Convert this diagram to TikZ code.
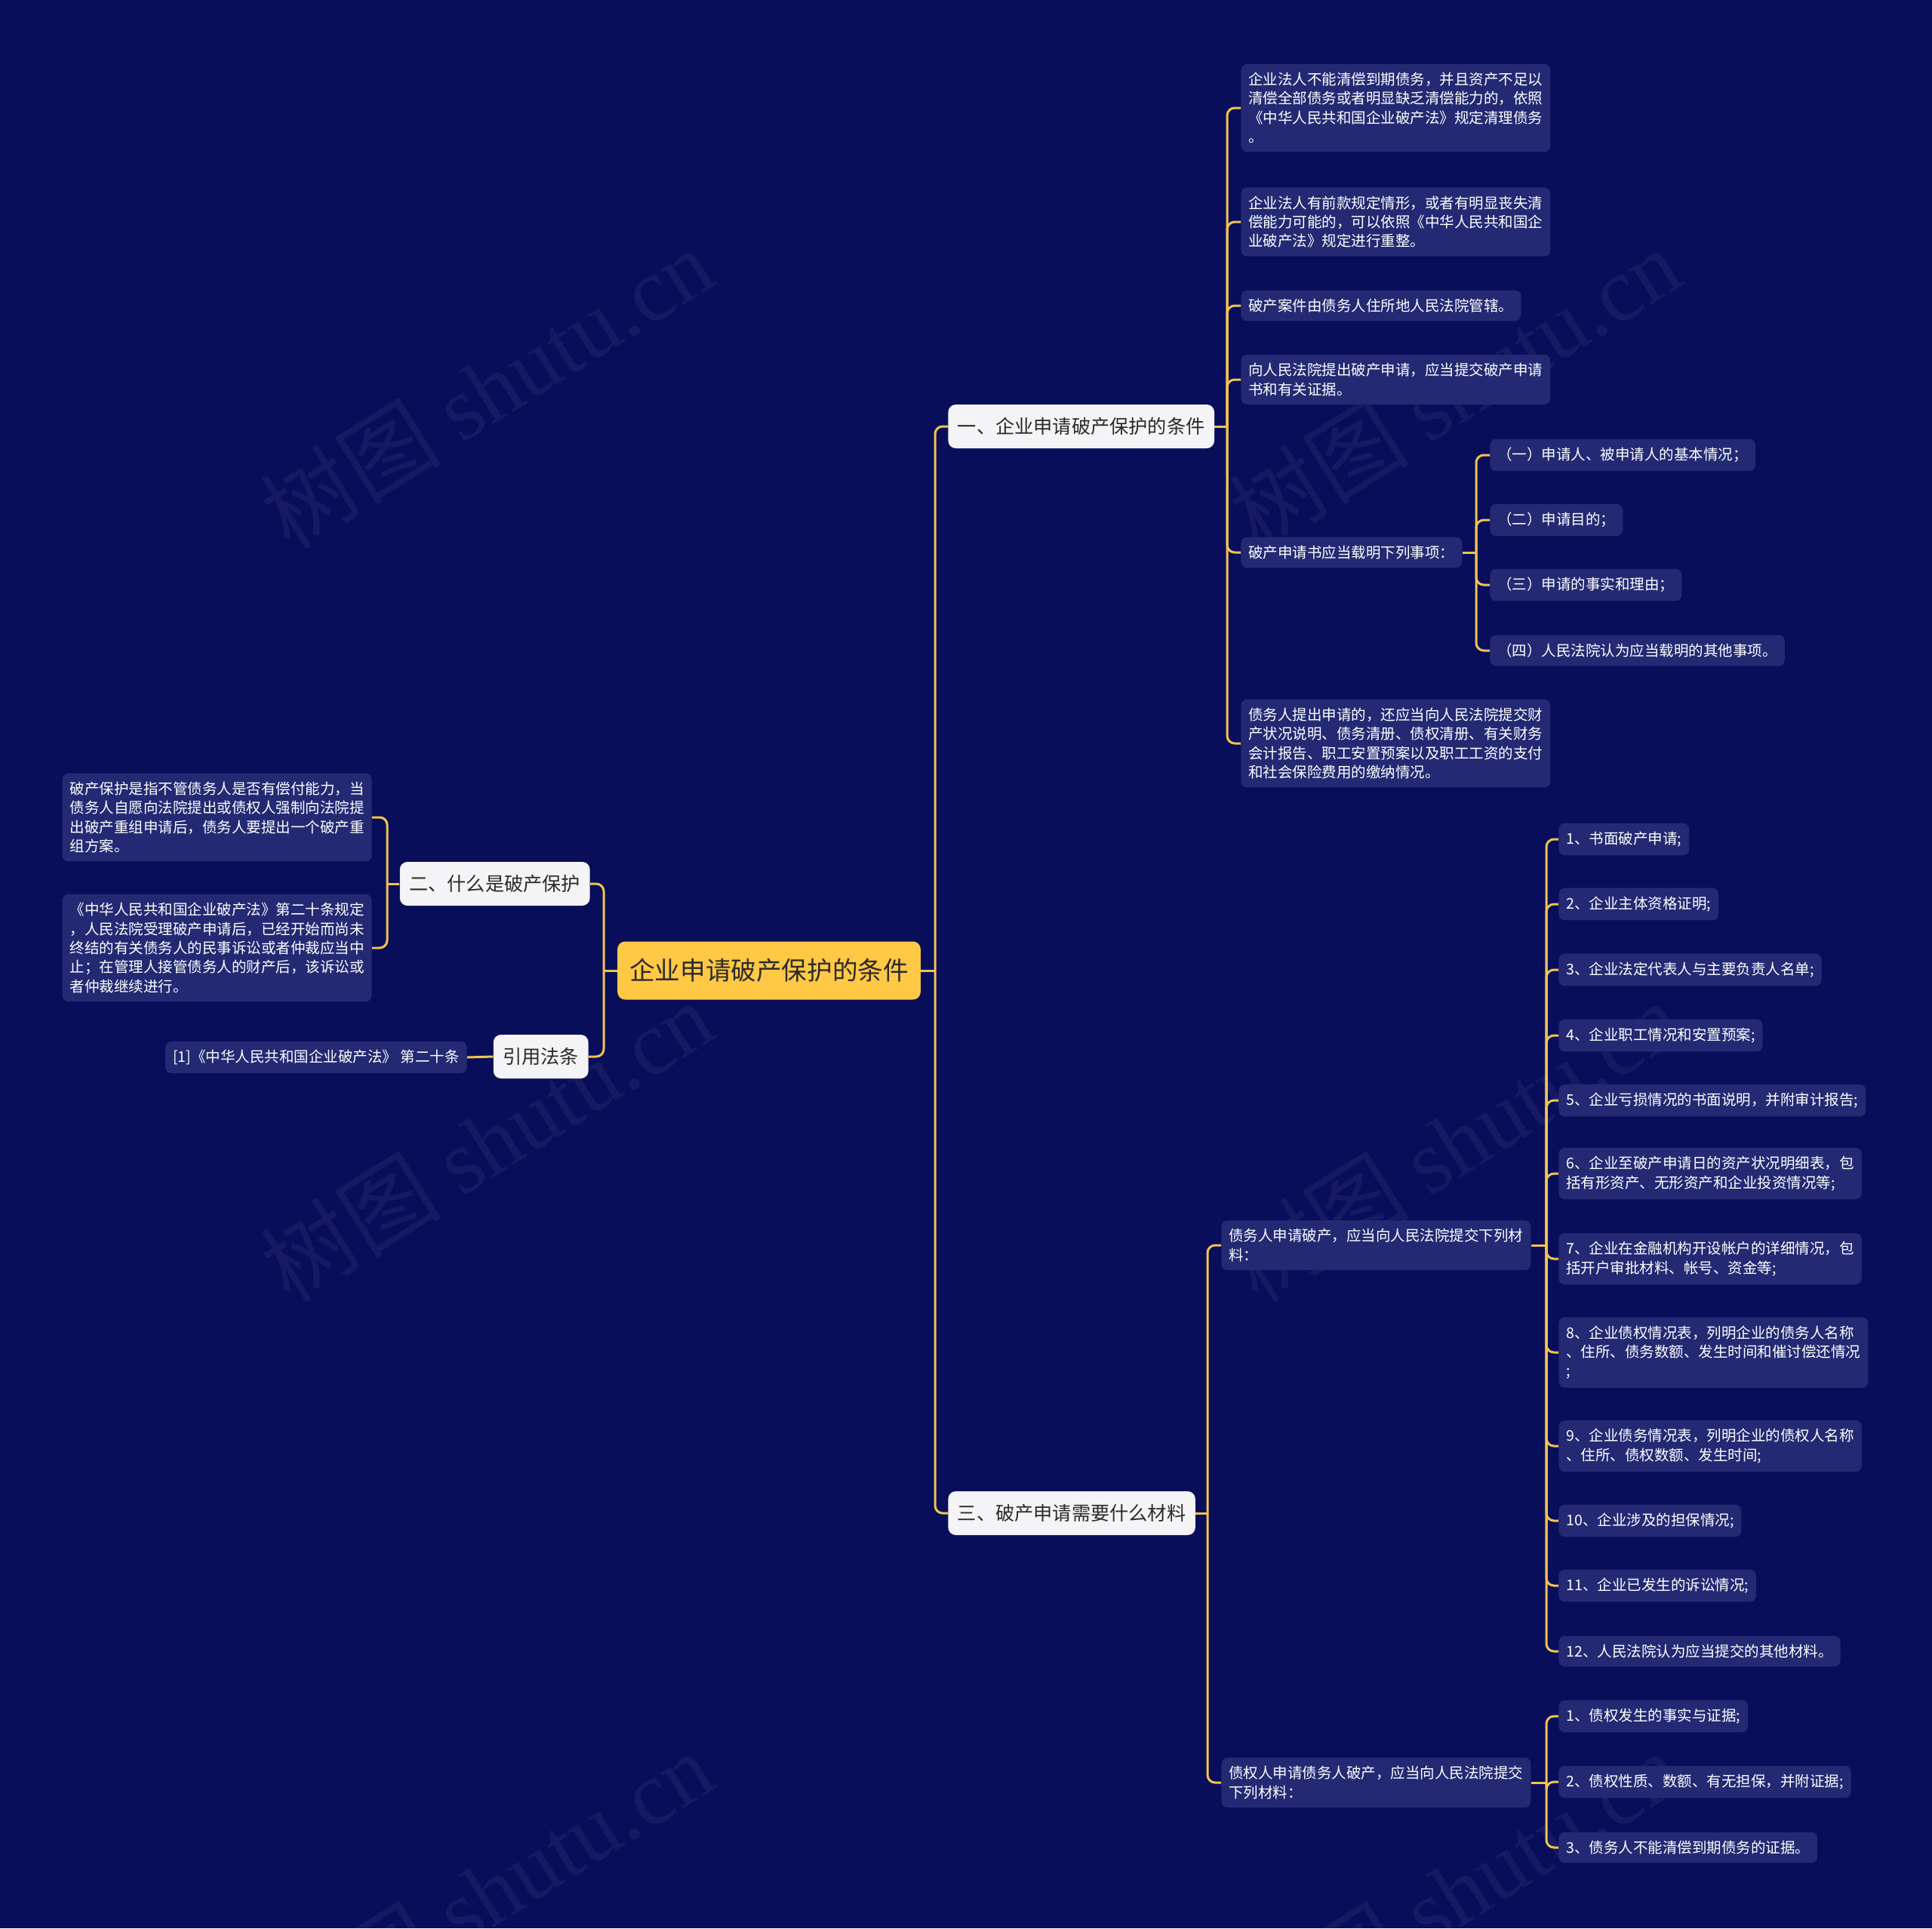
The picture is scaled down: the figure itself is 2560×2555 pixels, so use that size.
\documentclass[tikz,border=0pt]{standalone}
\usepackage{fontspec}
\setmainfont{Noto Sans CJK SC}
\newfontfamily\wmfont{Liberation Serif}
\definecolor{bgc}{HTML}{090E5B}
\definecolor{leaffill}{HTML}{232A73}
\definecolor{linec}{HTML}{F2C350}
\definecolor{rootc}{HTML}{FFC845}
\definecolor{lonefill}{HTML}{F4F4F6}
\definecolor{darktext}{HTML}{2A2A2A}
\tikzset{
  conn/.style={draw=linec, line width=1.5pt, rounded corners=5pt},
  leaf/.style={fill=leaffill, text=white, rounded corners=4pt, inner xsep=5pt, inner ysep=5.6pt,
    align=left, font=\fontsize{9.75pt}{12.7pt}\selectfont},
  lone/.style={fill=lonefill, text=darktext, rounded corners=5pt, inner xsep=6.25pt, inner ysep=0pt,
    minimum height=29pt, font=\fontsize{12.6pt}{15pt}\selectfont},
  rootn/.style={fill=rootc, text=darktext, rounded corners=5pt, inner xsep=8pt, inner ysep=0pt,
    minimum height=38.5pt, font=\fontsize{16.8pt}{20pt}\selectfont},
  wm/.style={text=white, opacity=0.05, font=\fontsize{60pt}{66pt}\selectfont}
}
\begin{document}
\begin{tikzpicture}[x=0.5pt, y=-0.5pt]
\useasboundingbox (0,0) rectangle (2560,2555);
\fill[bgc] (0,0) rectangle (2560,2555);

% watermarks
\foreach \wx/\wy in {645/514, 1927/514, 645/1512, 1927/1512, 645/2506, 1927/2506}
  \node[wm, rotate=32] at (\wx,\wy) {树图 {\wmfont shutu.cn}};

% root and level 1
\node[rootn] (root) at (1019,1286) {企业申请破产保护的条件};
\node[lone, anchor=west] (L1) at (1256,565) {一、企业申请破产保护的条件};
\node[lone, anchor=east] (L2) at (782,1171) {二、什么是破产保护};
\node[lone, anchor=east] (L3) at (780,1400) {引用法条};
\node[lone, anchor=west] (L4) at (1256,2005) {三、破产申请需要什么材料};

% branch 1 leaves
\node[leaf, anchor=west] (A1) at (1644,143) {企业法人不能清偿到期债务，并且资产不足以\\清偿全部债务或者明显缺乏清偿能力的，依照\\《中华人民共和国企业破产法》规定清理债务\\。};
\node[leaf, anchor=west] (A2) at (1644,294) {企业法人有前款规定情形，或者有明显丧失清\\偿能力可能的，可以依照《中华人民共和国企\\业破产法》规定进行重整。};
\node[leaf, anchor=west] (A3) at (1644,405) {破产案件由债务人住所地人民法院管辖。};
\node[leaf, anchor=west] (A4) at (1644,503) {向人民法院提出破产申请，应当提交破产申请\\书和有关证据。};
\node[leaf, anchor=west] (A5) at (1644,732) {破产申请书应当载明下列事项：};
\node[leaf, anchor=west] (A6) at (1644,985) {债务人提出申请的，还应当向人民法院提交财\\产状况说明、债务清册、债权清册、有关财务\\会计报告、职工安置预案以及职工工资的支付\\和社会保险费用的缴纳情况。};
\node[leaf, anchor=west] (B1) at (1974,603) {（一）申请人、被申请人的基本情况；};
\node[leaf, anchor=west] (B2) at (1974,689) {（二）申请目的；};
\node[leaf, anchor=west] (B3) at (1974,775) {（三）申请的事实和理由；};
\node[leaf, anchor=west] (B4) at (1974,862) {（四）人民法院认为应当载明的其他事项。};

% branch 2 leaves
\node[leaf, anchor=east] (C1) at (493,1083) {破产保护是指不管债务人是否有偿付能力，当\\债务人自愿向法院提出或债权人强制向法院提\\出破产重组申请后，债务人要提出一个破产重\\组方案。};
\node[leaf, anchor=east] (C2) at (493,1256) {《中华人民共和国企业破产法》第二十条规定\\，人民法院受理破产申请后，已经开始而尚未\\终结的有关债务人的民事诉讼或者仲裁应当中\\止；在管理人接管债务人的财产后，该诉讼或\\者仲裁继续进行。};
\node[leaf, anchor=east] (D1) at (619,1401) {[1]《中华人民共和国企业破产法》 第二十条};

% branch 3 leaves
\node[leaf, anchor=west] (E1) at (1618,1650) {债务人申请破产，应当向人民法院提交下列材\\料：};
\node[leaf, anchor=west] (E2) at (1618,2362) {债权人申请债务人破产，应当向人民法院提交\\下列材料：};
\node[leaf, anchor=west] (F1) at (2065,1112) {1、书面破产申请;};
\node[leaf, anchor=west] (F2) at (2065,1198) {2、企业主体资格证明;};
\node[leaf, anchor=west] (F3) at (2065,1285) {3、企业法定代表人与主要负责人名单;};
\node[leaf, anchor=west] (F4) at (2065,1372) {4、企业职工情况和安置预案;};
\node[leaf, anchor=west] (F5) at (2065,1458) {5、企业亏损情况的书面说明，并附审计报告;};
\node[leaf, anchor=west] (F6) at (2065,1555) {6、企业至破产申请日的资产状况明细表，包\\括有形资产、无形资产和企业投资情况等;};
\node[leaf, anchor=west] (F7) at (2065,1668) {7、企业在金融机构开设帐户的详细情况，包\\括开户审批材料、帐号、资金等;};
\node[leaf, anchor=west] (F8) at (2065,1792) {8、企业债权情况表，列明企业的债务人名称\\、住所、债务数额、发生时间和催讨偿还情况\\;};
\node[leaf, anchor=west] (F9) at (2065,1916) {9、企业债务情况表，列明企业的债权人名称\\、住所、债权数额、发生时间;};
\node[leaf, anchor=west] (F10) at (2065,2015) {10、企业涉及的担保情况;};
\node[leaf, anchor=west] (F11) at (2065,2101) {11、企业已发生的诉讼情况;};
\node[leaf, anchor=west] (F12) at (2065,2188) {12、人民法院认为应当提交的其他材料。};
\node[leaf, anchor=west] (G1) at (2065,2274) {1、债权发生的事实与证据;};
\node[leaf, anchor=west] (G2) at (2065,2361) {2、债权性质、数额、有无担保，并附证据;};
\node[leaf, anchor=west] (G3) at (2065,2448) {3、债务人不能清偿到期债务的证据。};

% spine coordinates
\coordinate (sR) at (1239,1286);
\coordinate (sL) at (800,1286);
\coordinate (s1) at (1626,565);
\coordinate (s5) at (1956,732);
\coordinate (s2) at (513,1171);
\coordinate (s4) at (1600,2005);
\coordinate (sE1) at (2049,1650);
\coordinate (sE2) at (2049,2362);

% connectors
\draw[conn] (root.east) -- (sR);
\foreach \n in {L1,L4} \draw[conn] (sR) |- (\n.west);
\draw[conn] (root.west) -- (sL);
\foreach \n in {L2,L3} \draw[conn] (sL) |- (\n.east);

\draw[conn] (L1.east) -- (s1);
\foreach \n in {A1,A2,A3,A4,A5,A6} \draw[conn] (s1) |- (\n.west);
\draw[conn] (A5.east) -- (s5);
\foreach \n in {B1,B2,B3,B4} \draw[conn] (s5) |- (\n.west);

\draw[conn] (L2.west) -- (s2);
\foreach \n in {C1,C2} \draw[conn] (s2) |- (\n.east);
\draw[conn] (L3.west) -- (D1.east);

\draw[conn] (L4.east) -- (s4);
\foreach \n in {E1,E2} \draw[conn] (s4) |- (\n.west);
\draw[conn] (E1.east) -- (sE1);
\foreach \n in {F1,F2,F3,F4,F5,F6,F7,F8,F9,F10,F11,F12} \draw[conn] (sE1) |- (\n.west);
\draw[conn] (E2.east) -- (sE2);
\foreach \n in {G1,G2,G3} \draw[conn] (sE2) |- (\n.west);
\end{tikzpicture}
\end{document}
